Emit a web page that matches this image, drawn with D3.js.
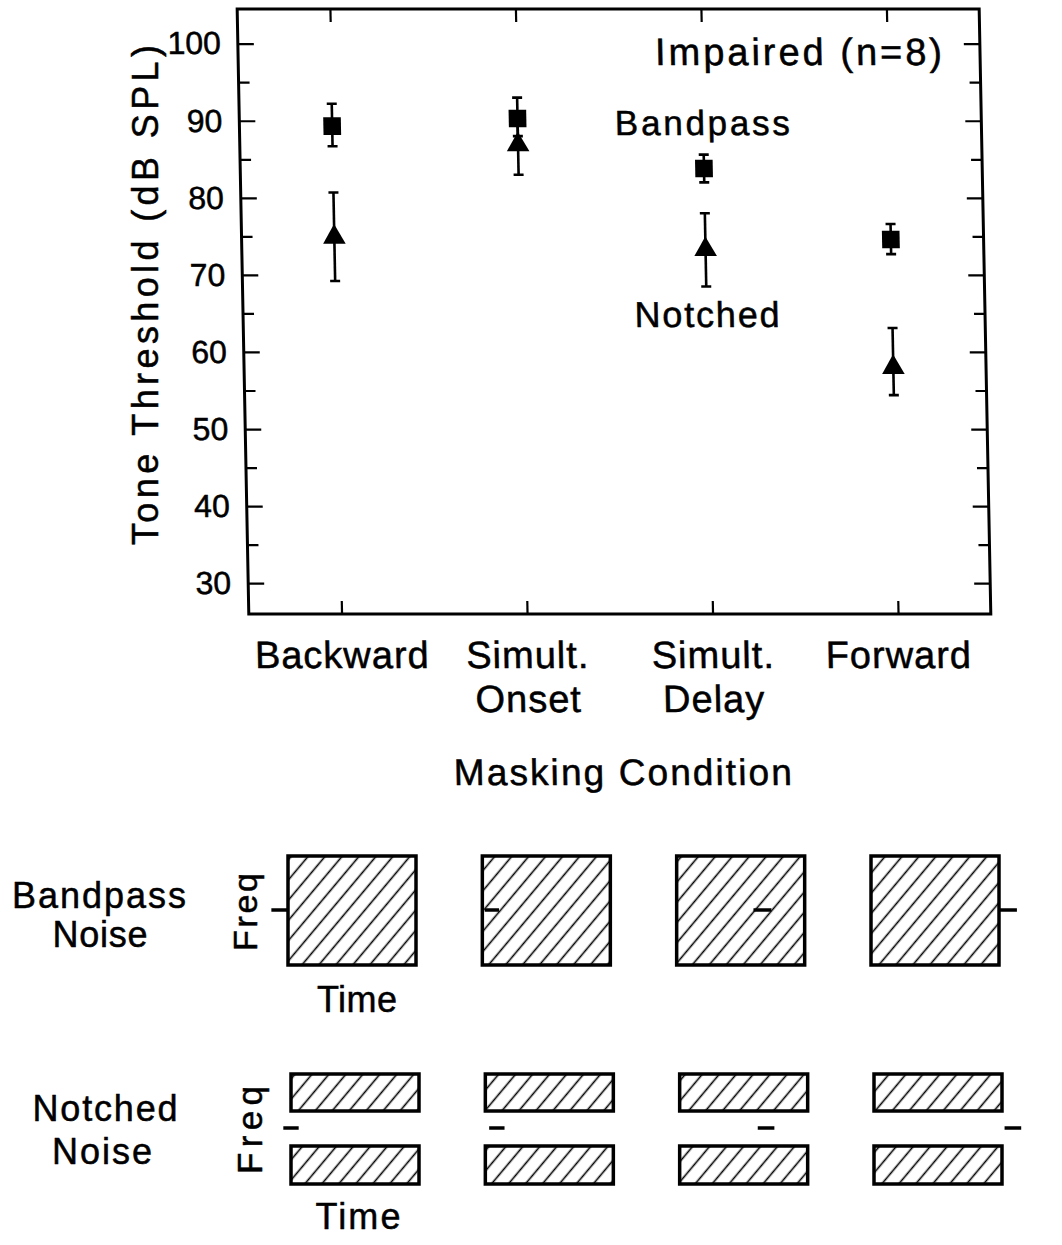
<!DOCTYPE html>
<head>
  <meta charset="utf-8">
  <script src="https://cdn.jsdelivr.net/npm/d3@7/dist/d3.min.js"></script>
</head>
<style>
  body { margin: 0; background: #fff; }
  text { font-family: "Liberation Sans", Arial, sans-serif; fill: #000; stroke: #000; stroke-width: 0.5px; }
</style>
<body>
<script>

var conditions = ["Backward", "Simult. Onset", "Simult. Delay", "Forward"];
var condLines = [["Backward"], ["Simult.", "Onset"], ["Simult.", "Delay"], ["Forward"]];

var bandpassMean = [89.3, 90.3, 83.8, 74.6];
var bandpassHi   = [92.2, 93.0, 85.6, 76.6];
var bandpassLo   = [86.7, 88.0, 82.0, 72.7];

var notchedMean = [74.9, 86.9, 73.3, 58.0];
var notchedHi   = [80.7, 90.3, 78.0, 63.1];
var notchedLo   = [69.2, 83.0, 68.5, 54.4];

var majorTicks = [30, 40, 50, 60, 70, 80, 90, 100];
var minorTicks = [35, 45, 55, 65, 75, 85, 95];

// tone on/off in each schematic, as a fraction of the masker duration
var bpToneOn  = [-0.13, 0.02, 0.60, 1.00];
var bpToneOff = [0.00, 0.13, 0.74, 1.14];
var nnToneOn  = [-0.06, 0.03, 0.61, 1.02];
var nnToneOff = [0.06, 0.15, 0.74, 1.15];

var svg = d3.select("body").append("svg")
    .attr("width", 1062)
    .attr("height", 1245);

var defs = svg.append("defs");
defs.append("pattern")
    .attr("id", "hatch")
    .attr("patternUnits", "userSpaceOnUse")
    .attr("width", 13).attr("height", 13)
    .attr("patternTransform", "rotate(40)")
  .append("line")
    .attr("x1", 6.5).attr("y1", 0).attr("x2", 6.5).attr("y2", 13)
    .attr("stroke", "#000").attr("stroke-width", 1.6);

// ---- top panel (scan is slightly sheared, so is this group)
var pLeft = 237, pRight = 979, pTop = 9, pBottom = 614;
var plot = svg.append("g").attr("transform", "skewX(1.1)");

var x = d3.scalePoint().domain(conditions).range([pLeft, pRight]).padding(0.5);
var y = d3.scaleLinear().domain([26, 104.5]).range([pBottom, pTop]);

function styleAxis(g) {
  g.select(".domain").remove();
  g.selectAll(".tick line").attr("stroke", "#000").attr("stroke-width", 2.2);
  g.selectAll(".tick text")
    .style("font-family", "Liberation Sans, Arial, sans-serif")
    .attr("fill", "#000");
}

plot.append("g").attr("transform", "translate(" + pLeft + ",0)")
    .call(d3.axisLeft(y).tickValues(majorTicks).tickSize(-16).tickPadding(17).tickFormat(d3.format("d")))
    .call(styleAxis)
    .selectAll(".tick text").style("font-size", "32px");
plot.append("g").attr("transform", "translate(" + pLeft + ",0)")
    .call(d3.axisLeft(y).tickValues(minorTicks).tickSize(-11).tickFormat(""))
    .call(styleAxis);
plot.append("g").attr("transform", "translate(" + pRight + ",0)")
    .call(d3.axisRight(y).tickValues(majorTicks).tickSize(-16).tickFormat(""))
    .call(styleAxis);
plot.append("g").attr("transform", "translate(" + pRight + ",0)")
    .call(d3.axisRight(y).tickValues(minorTicks).tickSize(-11).tickFormat(""))
    .call(styleAxis);
plot.append("g").attr("transform", "translate(0," + pTop + ")")
    .call(d3.axisTop(x).tickSize(-13).tickFormat(""))
    .call(styleAxis);
plot.append("g").attr("transform", "translate(0," + pBottom + ")")
    .call(d3.axisBottom(x).tickSize(-13).tickFormat(""))
    .call(styleAxis);

plot.append("rect")
    .attr("x", pLeft).attr("y", pTop)
    .attr("width", pRight - pLeft).attr("height", pBottom - pTop)
    .attr("fill", "none").attr("stroke", "#000").attr("stroke-width", 3);

// error bars + markers
function series(mean, lo, hi, symbolType, size) {
  var g = plot.append("g");
  var pts = g.selectAll("g").data(conditions).enter().append("g");
  pts.append("line")
      .attr("x1", function(d) { return x(d); }).attr("x2", function(d) { return x(d); })
      .attr("y1", function(d, i) { return y(lo[i]); }).attr("y2", function(d, i) { return y(hi[i]); })
      .attr("stroke", "#000").attr("stroke-width", 2.6);
  [lo, hi].forEach(function(arr) {
    pts.append("line")
        .attr("x1", function(d) { return x(d) - 5; }).attr("x2", function(d) { return x(d) + 5; })
        .attr("y1", function(d, i) { return y(arr[i]); }).attr("y2", function(d, i) { return y(arr[i]); })
        .attr("stroke", "#000").attr("stroke-width", 2.6);
  });
  pts.append("path")
      .attr("transform", function(d, i) { return "translate(" + x(d) + "," + y(mean[i]) + ")"; })
      .attr("d", d3.symbol().type(symbolType).size(size))
      .attr("fill", "#000");
}
series(notchedMean, notchedLo, notchedHi, d3.symbolTriangle, 220);
series(bandpassMean, bandpassLo, bandpassHi, d3.symbolSquare, 310);

// category labels
var cat = plot.append("g").selectAll("text").data(conditions).enter().append("text")
    .attr("text-anchor", "middle")
    .style("font-size", "38px")
    .style("letter-spacing", "1px");
cat.selectAll("tspan").data(function(d, i) { return condLines[i]; }).enter().append("tspan")
    .attr("x", function() { return x(this.parentNode.__data__); })
    .attr("y", function(d, j) { return 668 + j * 44; })
    .text(function(d) { return d; });

plot.append("text")
    .attr("x", (pLeft + pRight) / 2).attr("y", 785)
    .attr("text-anchor", "middle")
    .attr("textLength", 338)
    .style("font-size", "37px")
    .text("Masking  Condition");

plot.append("text")
    .attr("x", 941).attr("y", 65)
    .attr("text-anchor", "end")
    .attr("textLength", 287)
    .style("font-size", "38px")
    .text("Impaired  (n=8)");
plot.append("text")
    .attr("x", 700).attr("y", 135)
    .attr("text-anchor", "middle")
    .attr("textLength", 175)
    .style("font-size", "35px")
    .text("Bandpass");
plot.append("text")
    .attr("x", 701).attr("y", 327)
    .attr("text-anchor", "middle")
    .attr("textLength", 145)
    .style("font-size", "36px")
    .text("Notched");

svg.append("text")
    .attr("transform", "translate(158,295) rotate(-90)")
    .attr("text-anchor", "middle")
    .attr("textLength", 500)
    .style("font-size", "36px")
    .text("Tone  Threshold  (dB  SPL)");

// ---- schematics
var col = d3.scalePoint().domain(conditions).range([352, 935]);
var boxW = 128;

function timeScale(c, shift) {
  var cx = col(c) + shift;
  return d3.scaleLinear().domain([0, 1]).range([cx - boxW / 2, cx + boxW / 2]);
}

var bp = svg.append("g");
bp.selectAll("rect").data(conditions).enter().append("rect")
    .attr("x", function(d) { return timeScale(d, 0)(0); })
    .attr("y", 856).attr("width", boxW).attr("height", 109)
    .attr("fill", "url(#hatch)").attr("stroke", "#000").attr("stroke-width", 3.5);
bp.selectAll("line").data(conditions).enter().append("line")
    .attr("x1", function(d, i) { return timeScale(d, 0)(bpToneOn[i]); })
    .attr("x2", function(d, i) { return timeScale(d, 0)(bpToneOff[i]); })
    .attr("y1", 910).attr("y2", 910)
    .attr("stroke", "#000").attr("stroke-width", 3.5);

var nn = svg.append("g");
[[1074, 37], [1146, 38]].forEach(function(b) {
  nn.append("g").selectAll("rect").data(conditions).enter().append("rect")
      .attr("x", function(d) { return timeScale(d, 3)(0); })
      .attr("y", b[0]).attr("width", boxW).attr("height", b[1])
      .attr("fill", "url(#hatch)").attr("stroke", "#000").attr("stroke-width", 3.5);
});
nn.selectAll("line.tone").data(conditions).enter().append("line")
    .attr("class", "tone")
    .attr("x1", function(d, i) { return timeScale(d, 3)(nnToneOn[i]); })
    .attr("x2", function(d, i) { return timeScale(d, 3)(nnToneOff[i]); })
    .attr("y1", 1128).attr("y2", 1128)
    .attr("stroke", "#000").attr("stroke-width", 3.5);

function label(txt, xp, yp, size, len) {
  svg.append("text")
      .attr("x", xp).attr("y", yp)
      .attr("text-anchor", "middle")
      .attr("textLength", len)
      .style("font-size", size + "px")
      .text(txt);
}
label("Bandpass", 99, 908, 36, 174);
label("Noise", 100, 947, 36, 95);
label("Notched", 105, 1121, 36, 145);
label("Noise", 102, 1164, 36, 100);
label("Time", 357, 1012, 36, 80);
label("Time", 358, 1229, 36, 85);

svg.append("text")
    .attr("transform", "translate(257,912) rotate(-90)")
    .attr("text-anchor", "middle")
    .attr("textLength", 78)
    .style("font-size", "34px")
    .text("Freq");
svg.append("text")
    .attr("transform", "translate(262,1130) rotate(-90)")
    .attr("text-anchor", "middle")
    .attr("textLength", 88)
    .style("font-size", "35px")
    .text("Freq");

</script>
</body>
